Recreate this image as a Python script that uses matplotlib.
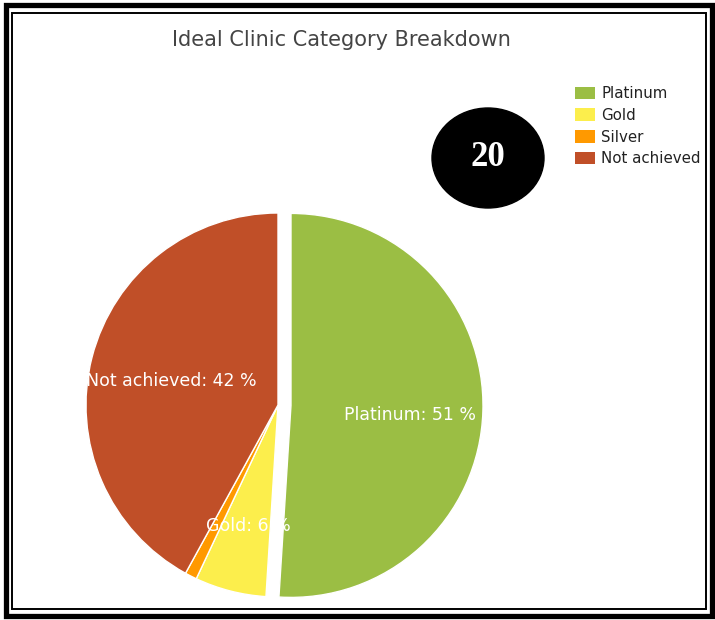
import numpy as np
import matplotlib
matplotlib.use("Agg")
import matplotlib.pyplot as plt
from matplotlib.patches import Rectangle, Ellipse, Patch

categories = ["Platinum", "Gold", "Silver", "Not achieved"]
percents = [51, 6, 1, 42]
colors = ["#9BBE44", "#FCEE4C", "#FF9900", "#C04F28"]
badge = "20"
title = "Ideal Clinic Category Breakdown"

W, H = 715, 620
fig = plt.figure(figsize=(W / 100, H / 100), dpi=100)
ax = fig.add_axes([0, 0, 1, 1])

# pie in pixel coordinates (y flipped); explode is in data units here
cx, cy, r = 278, H - 405, 192
wedges, _ = ax.pie(percents, colors=colors, explode=[13, 0, 0, 0], startangle=90,
                   counterclock=False, center=(cx, cy), radius=r,
                   wedgeprops=dict(edgecolor="white", linewidth=1))

ax.set_xlim(0, W)
ax.set_ylim(0, H)
ax.set_aspect("equal")
ax.axis("off")

# slice labels, kept inside the pie's left edge
renderer = fig.canvas.get_renderer()
for w, name, p in zip(wedges, categories, percents):
    if p < 3:
        continue
    ang = np.deg2rad((w.theta1 + w.theta2) / 2)
    x0, y0 = w.center
    d = 0.62 * r
    t = ax.text(x0 + d * np.cos(ang), y0 + d * np.sin(ang) - 6, f"{name}: {p} %",
                color="white", fontsize=12.5, ha="center", va="center")
    bb = t.get_window_extent(renderer)
    if bb.x0 < cx - r:
        t.set_x(t.get_position()[0] + (cx - r - bb.x0))

ax.text(341, H - 40, title, fontsize=15, color="#444444", ha="center", va="center")

# badge
ax.add_patch(Ellipse((488, H - 158), 112, 100, color="black"))
ax.text(488, H - 158, badge, fontsize=25, color="white", fontweight="bold",
        family="Liberation Serif", ha="center", va="center")

handles = [Patch(facecolor=c, edgecolor="none") for c in colors]
fig.legend(handles, categories, loc="upper left", bbox_to_anchor=(569 / W, 1 - 80 / H),
           frameon=False, fontsize=10.8, handlelength=1.3, handleheight=0.9,
           handletextpad=0.45, labelspacing=0.45, borderaxespad=0, labelcolor="#222222")

# double frame
ax.add_patch(Rectangle((5.5, 4.5), 706, 611, fill=False, edgecolor="black", linewidth=3.8))
ax.add_patch(Rectangle((12, 11), 694, 596, fill=False, edgecolor="black", linewidth=1.4))

fig.savefig("out.png", dpi=100)
